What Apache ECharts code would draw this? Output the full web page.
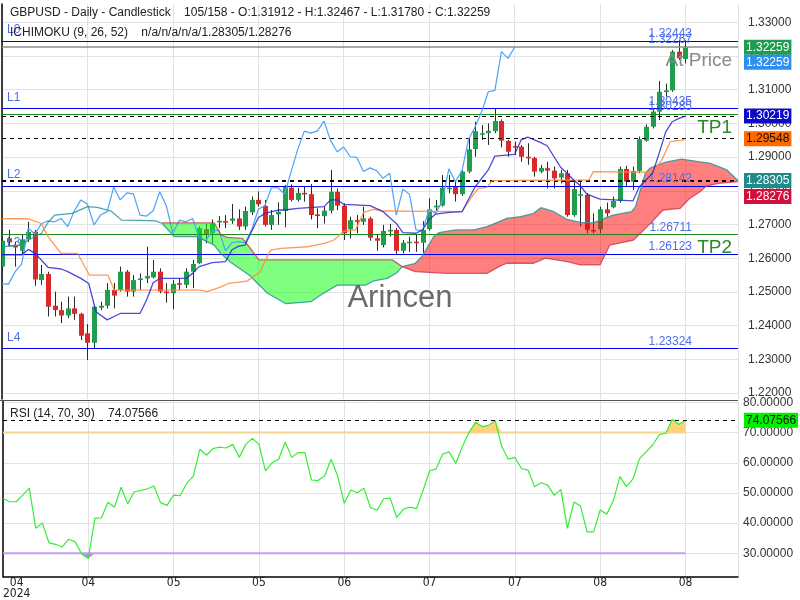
<!DOCTYPE html>
<html><head><meta charset="utf-8">
<script src="https://cdn.jsdelivr.net/npm/echarts/dist/echarts.min.js"></script>
<style>html,body{margin:0;padding:0;background:#fff}#c{width:800px;height:600px}</style>
</head><body><div id="c"></div>
<script>
// ---------- DATA ----------
const tickLabels = ['04','04','05','05','06','07','07','08','08'];
const yearLabel = '2024';
const priceTicks = [1.22,1.23,1.24,1.25,1.26,1.27,1.28,1.29,1.30,1.31,1.32,1.33];
const rsiTicks = [30,40,50,60,70,80];
// [open, close, low, high]
const ohlc = [
[1.2575,1.2652,1.2563,1.2662],[1.2659,1.2647,1.2634,1.2684],[1.2639,1.2632,1.2575,1.2649],[1.2622,1.2656,1.2613,1.2669],[1.2656,1.2678,1.2648,1.2708],
[1.2678,1.2537,1.2518,1.2684],[1.2535,1.2553,1.2521,1.2580],[1.2553,1.2456,1.2427,1.2560],[1.2459,1.2446,1.2427,1.2501],[1.2446,1.2430,1.2407,1.2471],
[1.2430,1.2451,1.2422,1.2486],[1.2451,1.2435,1.2417,1.2486],[1.2435,1.2370,1.2357,1.2438],[1.2377,1.2349,1.2298,1.2404],[1.2349,1.2456,1.2333,1.2461],
[1.2453,1.2459,1.2446,1.2471],[1.2459,1.2506,1.2451,1.2526],[1.2506,1.2489,1.2451,1.2527],[1.2506,1.2560,1.2501,1.2575],[1.2560,1.2501,1.2486,1.2565],
[1.2501,1.2535,1.2486,1.2550],[1.2537,1.2540,1.2506,1.2555],[1.2540,1.2547,1.2526,1.2634],[1.2543,1.2560,1.2540,1.2595],[1.2560,1.2501,1.2496,1.2570],
[1.2501,1.2496,1.2468,1.2526],[1.2496,1.2524,1.2448,1.2535],[1.2526,1.2523,1.2506,1.2540],[1.2521,1.2560,1.2511,1.2570],[1.2560,1.2583,1.2511,1.2595],
[1.2585,1.2689,1.2583,1.2694],[1.2686,1.2672,1.2644,1.2702],[1.2674,1.2702,1.2644,1.2715],[1.2706,1.2711,1.2689,1.2725],[1.2710,1.2708,1.2689,1.2728],
[1.2711,1.2718,1.2702,1.2761],[1.2718,1.2694,1.2684,1.2745],[1.2694,1.2740,1.2684,1.2753],[1.2736,1.2773,1.2728,1.2783],[1.2773,1.2760,1.2753,1.2798],
[1.2755,1.2699,1.2694,1.2773],[1.2699,1.2728,1.2684,1.2743],[1.2730,1.2738,1.2699,1.2766],[1.2740,1.2811,1.2692,1.2817],[1.2809,1.2773,1.2768,1.2819],
[1.2773,1.2794,1.2768,1.2809],[1.2794,1.2791,1.2768,1.2812],[1.2790,1.2728,1.2715,1.2820],[1.2730,1.2725,1.2689,1.2748],[1.2725,1.2741,1.2703,1.2753],
[1.2741,1.2797,1.2733,1.2862],[1.2797,1.2756,1.2743,1.2807],[1.2756,1.2674,1.2654,1.2763],[1.2686,1.2713,1.2659,1.2723],[1.2713,1.2708,1.2674,1.2728],
[1.2708,1.2718,1.2699,1.2753],[1.2718,1.2661,1.2652,1.2723],[1.2659,1.2652,1.2622,1.2672],[1.2639,1.2681,1.2632,1.2699],[1.2681,1.2684,1.2664,1.2702],
[1.2684,1.2622,1.2613,1.2689],[1.2622,1.2646,1.2614,1.2654],[1.2646,1.2649,1.2619,1.2664],[1.2649,1.2646,1.2619,1.2669],[1.2646,1.2684,1.2616,1.2710],
[1.2686,1.2745,1.2682,1.2778],[1.2751,1.2756,1.2741,1.2773],[1.2756,1.2809,1.2753,1.2847],[1.2806,1.2809,1.2793,1.2847],[1.2812,1.2790,1.2768,1.2832],
[1.2790,1.2857,1.2785,1.2862],[1.2857,1.2923,1.2852,1.2956],[1.2924,1.2977,1.2901,1.3005],[1.2968,1.2971,1.2951,1.2995],[1.2971,1.2978,1.2936,1.3000],
[1.2977,1.3007,1.2971,1.3045],[1.3007,1.2949,1.2929,1.3012],[1.2948,1.2916,1.2901,1.2951],[1.2933,1.2930,1.2906,1.2946],[1.2931,1.2901,1.2886,1.2936],
[1.2901,1.2899,1.2877,1.2941],[1.2897,1.2857,1.2842,1.2901],[1.2857,1.2868,1.2852,1.2877],[1.2867,1.2860,1.2807,1.2886],[1.2860,1.2837,1.2807,1.2872],
[1.2839,1.2852,1.2822,1.2862],[1.2852,1.2728,1.2723,1.2862],[1.2728,1.2805,1.2723,1.2832],[1.2787,1.2790,1.2694,1.2827],[1.2788,1.2684,1.2674,1.2793],
[1.2684,1.2682,1.2674,1.2733],[1.2686,1.2745,1.2674,1.2753],[1.2745,1.2733,1.2723,1.2765],[1.2751,1.2770,1.2748,1.2783],[1.2770,1.2865,1.2765,1.2872],
[1.2865,1.2827,1.2812,1.2874],[1.2827,1.2859,1.2802,1.2872],[1.2859,1.2953,1.2852,1.2961],[1.2949,1.2990,1.2946,1.2997],[1.2990,1.3035,1.2985,1.3045],
[1.3035,1.3094,1.3010,1.3126],[1.3095,1.3098,1.3079,1.3118],[1.3098,1.3213,1.3094,1.3218],[1.3213,1.3193,1.3188,1.3247],[1.31912,1.32259,1.31780,1.32467]
];
const rsi = [
48.2,47.1,47.1,49.3,51.6,38.3,40.1,33.5,33.0,32.1,
34.7,33.8,29.8,28.3,41.6,41.8,46.9,45.3,51.9,46.4,
50.4,50.8,51.4,52.3,46.8,45.9,49.3,49.1,53.2,55.6,
64.5,62.5,64.7,65.2,64.9,66.1,61.8,66.1,68.1,66.1,
57.3,60.0,61.2,66.8,61.8,63.4,63.4,54.3,54.1,55.6,
61.2,55.6,46.6,51.0,50.1,51.6,45.1,44.3,48.1,48.3,
41.9,44.6,45.3,44.8,50.8,57.3,58.0,62.9,63.6,59.8,
65.4,70.0,73.4,72.0,72.4,74.0,65.4,61.2,61.8,58.1,
57.6,52.1,53.4,52.6,49.2,51.2,38.3,47.0,45.7,37.1,
37.1,44.4,43.0,47.4,55.4,52.1,54.7,61.4,63.6,65.9,
69.3,69.8,74.4,72.7,74.07566
];
// Ichimoku lines, [bar position, value] vertices
const tenkan = [[0,1.2610],[3,1.2610],[4,1.2626],[5,1.2615],[7,1.2573],[9,1.2568],[10,1.2560],[12,1.2540],[13.2,1.2525],[14.3,1.2441],[16,1.2417],[18,1.2436],[21,1.2436],[22,1.2476],[23,1.2527],[24,1.2540],[28,1.2540],[29,1.2555],[30,1.2575],[32,1.2587],[34,1.2590],[35,1.2625],[36,1.2636],[37,1.2639],[38,1.2680],[39,1.2720],[40,1.2733],[42,1.2743],[43,1.2743],[45,1.2748],[49,1.2753],[50,1.2773],[51,1.2773],[52,1.2760],[56,1.2756],[58,1.2738],[60,1.2703],[61,1.2676],[63,1.2674],[64,1.2684],[65,1.2715],[66,1.2731],[68,1.2736],[70,1.2738],[72,1.2812],[74,1.2862],[75,1.2903],[78,1.2908],[79,1.2951],[80,1.2959],[82,1.2943],[83,1.2933],[84,1.2901],[85,1.2870],[86,1.2852],[87,1.2832],[88,1.2815],[89,1.2790],[91,1.2775],[96,1.2770],[97,1.2812],[99,1.2852],[100,1.2911],[101,1.2975],[102,1.3005],[103,1.3015],[104,1.30219]];
const kijun = [[0,1.2717],[4,1.2717],[6,1.2703],[7,1.2664],[9,1.2614],[11.5,1.2614],[13.3,1.2550],[16.1,1.2550],[17.1,1.2505],[30.2,1.2505],[31.3,1.2501],[33.2,1.2514],[34.5,1.2525],[37.3,1.2532],[39.3,1.2560],[40.1,1.2595],[40.9,1.2624],[42.4,1.2629],[46.5,1.2634],[49.2,1.2645],[50.5,1.2654],[52,1.2680],[53.8,1.2684],[55,1.2735],[56.5,1.2745],[58,1.2740],[70,1.2738],[71.5,1.2783],[72.5,1.2807],[73.8,1.2810],[74.6,1.2830],[89.3,1.2832],[90,1.2857],[99,1.2855],[100.4,1.2891],[101.7,1.2946],[103.7,1.2951],[104,1.29548]];
const senkouA = [[0,1.2634],[3,1.2639],[4,1.2654],[6,1.2674],[7,1.2706],[8,1.2728],[10.7,1.2733],[13,1.2753],[14.5,1.2751],[16.6,1.2740],[18.2,1.2713],[21,1.2712],[23.4,1.2711],[24.4,1.2703],[26.2,1.2664],[29.7,1.2664],[32.3,1.2639],[33.3,1.2614],[34.8,1.2588],[37.6,1.2550],[40.4,1.2496],[43.2,1.2465],[47,1.2471],[48.5,1.2491],[51,1.2520],[55.3,1.2520],[56.6,1.2533],[58.6,1.2540],[60.1,1.2557],[60.9,1.2575],[62.9,1.2585],[63.9,1.2605],[65.7,1.2664],[66.5,1.2676],[69,1.2684],[71.8,1.2684],[73.8,1.2694],[75.6,1.2708],[76.8,1.2718],[78.9,1.2723],[80.9,1.2733],[82,1.2750],[84,1.2738],[86,1.2715],[88,1.2706],[90,1.2705],[91,1.2713],[93,1.2728],[95.8,1.2738],[96.4,1.2753],[97.9,1.2852],[98.6,1.2867],[101,1.2885],[103.4,1.2894],[106.2,1.2886],[107.7,1.2882],[110.3,1.2862],[112,1.28305]];
const senkouB = [[24.4,1.2705],[32.3,1.2705],[33.3,1.2669],[34.3,1.2662],[36.6,1.2659],[37.6,1.2634],[39.1,1.2595],[59.4,1.2595],[60.9,1.2575],[62.9,1.2560],[67.7,1.2555],[73.8,1.2555],[75.6,1.2575],[76.8,1.2585],[80.9,1.2585],[82.7,1.2600],[86,1.2590],[88,1.2580],[91,1.2580],[92.5,1.2639],[96.1,1.2654],[98,1.2690],[100.6,1.2743],[103.2,1.2748],[104.5,1.2775],[106.2,1.2797],[107.2,1.2814],[109,1.2822],[112,1.28276]];
const cloudStart = 24.4, cloudCross = 60.9;
const chikouShift = 26;
// horizontal levels
const levelValues = [1.32443,1.30435,1.28142,1.26123,1.23324];
const levelNames = ['L0','L1','L2','L3','L4'];
const targetValues = [1.30285,1.26711];
const targetNames = ['TP1','TP2'];
const atPriceValue = 1.32267;
const lastClose = 1.32259;
const lastTenkan = 1.30219, lastKijun = 1.29548, lastSpanA = 1.28305, lastSpanB = 1.28276, lastChikou = 1.32259;
const rsiLast = 74.07566, rsiUpper = 70, rsiLower = 30;

// ---------- CHART ----------
const FONT = "'Liberation Sans', Arial, sans-serif";
const nBars = ohlc.length;          // 105
const xMax = 112;
const chikou = ohlc.slice(chikouShift).map((d,i)=>[i,d[1]]);
const candleData = ohlc.map((d,i)=>[i,d[0],d[1],d[2],d[3]]);
const rsiData = rsi.map((v,i)=>[i,v]);

const greenA = senkouA.filter(p=>p[0]>=cloudStart && p[0]<=cloudCross);
const greenB = senkouB.filter(p=>p[0]<=cloudCross);
const redA = senkouA.filter(p=>p[0]>=cloudCross);
const redB = senkouB.filter(p=>p[0]>=cloudCross);

const chart = echarts.init(document.getElementById('c'), null, {renderer:'canvas'});

function lineSeries(data, color, width, opacity){
  return {type:'line', xAxisIndex:0, yAxisIndex:0, data, showSymbol:false, symbol:'none', z:5,
    lineStyle:{color, width, opacity: opacity==null?1:opacity}, silent:true, animation:false};
}
const valLbl = v => ({show:true, position:'insideEndTop', formatter: v.toFixed(5), color:'#4d6cf0', fontSize:12, fontFamily:FONT, distance:1, offset:[-45,0]});
const boxLbl = (v,bg,fg,dy) => ({show:true, opacity:1, position:'end', formatter: v.toFixed(5), color:fg, backgroundColor:bg, fontSize:12, fontFamily:FONT, padding:[2,2,1,2], distance:6, offset:[0,dy||0]});
const hidden = {color:'rgba(0,0,0,0)', width:0, type:'solid'};
const dashed = {color:'#000', width:1, type:[4,4]};

const mainMarks = [];
levelValues.forEach((v,k)=>{
  mainMarks.push({yAxis:v, lineStyle:{color:'#0000f0', width:1, type:'solid'}, label:valLbl(v)});
  mainMarks.push({yAxis:v, lineStyle:hidden, label:{show:true, opacity:1, position:'insideStartTop', formatter:levelNames[k], color:'#4d6cf0', fontSize:12, fontFamily:FONT, distance:5}});
});
targetValues.forEach((v,k)=>{
  mainMarks.push({yAxis:v, lineStyle:{color:'#1d8a1d', width:1, type:'solid'}, label:valLbl(v)});
  mainMarks.push({yAxis:v, lineStyle:hidden, label:{show:true, opacity:1, position:'insideEndBottom', formatter:targetNames[k], color:'#2a8a2a', fontSize:19, fontFamily:FONT, distance:4, offset:[-2,0]}});
});
mainMarks.push({yAxis:atPriceValue, lineStyle:{color:'#8c8c8c', width:1.5, type:'solid'}, label:valLbl(atPriceValue)});
mainMarks.push({yAxis:atPriceValue, lineStyle:hidden, label:{show:true, opacity:1, position:'insideEndBottom', formatter:'At Price', color:'#8a8a8a', fontSize:19, fontFamily:FONT, distance:4, offset:[-2,0]}});
[lastTenkan,lastKijun,lastSpanA,lastSpanB].forEach(v=>mainMarks.push({yAxis:v, lineStyle:dashed, label:{show:false}}));
mainMarks.push({yAxis:lastClose, lineStyle:hidden, label:boxLbl(lastClose,'#1f9d4f','#fff',0)});
mainMarks.push({yAxis:lastChikou, lineStyle:hidden, label:boxLbl(lastChikou,'#2f8ff0','#fff',15)});
mainMarks.push({yAxis:lastTenkan, lineStyle:hidden, label:boxLbl(lastTenkan,'#0a0ac8','#fff',0)});
mainMarks.push({yAxis:lastKijun, lineStyle:hidden, label:boxLbl(lastKijun,'#ff6a00','#111',0)});
mainMarks.push({yAxis:lastSpanA, lineStyle:hidden, label:boxLbl(lastSpanA,'#1f8a8a','#fff',0)});
mainMarks.push({yAxis:lastSpanB, lineStyle:hidden, label:boxLbl(lastSpanB,'#d0103a','#fff',15)});

const option = {
  animation:false,
  backgroundColor:'#fff',
  textStyle:{fontFamily:FONT},
  grid:[
    {left:2, right:62, top:4, height:395},
    {left:2, right:62, top:401, height:176}
  ],
  xAxis:[
    {type:'value', gridIndex:0, min:0, max:xMax, interval:13,
     axisLine:{show:false}, axisTick:{show:false}, axisLabel:{show:false},
     splitLine:{show:true, lineStyle:{color:'#e2e2e2'}}},
    {type:'value', gridIndex:1, min:0, max:xMax, interval:13,
     axisLine:{show:true, onZero:false, lineStyle:{color:'#000', width:1.5}}, axisTick:{show:false},
     splitLine:{show:true, lineStyle:{color:'#e2e2e2'}},
     axisLabel:{show:true, margin:1, fontSize:12, lineHeight:11, color:'#222',
       fontFamily:"'Liberation Sans Narrow','DejaVu Sans Condensed',sans-serif",
       alignMinLabel:'left',
       formatter:v=>{const k=Math.round(v/13); if(Math.abs(v-k*13)>1e-6||k>=tickLabels.length) return ''; return k===0?('  '+tickLabels[0]+'\n'+yearLabel):tickLabels[k];}}}
  ],
  yAxis:[
    {type:'value', gridIndex:0, position:'right', min:1.21822, max:1.33543,
     axisLine:{show:true, lineStyle:{color:'#000', width:1.5}},
     axisTick:{show:false, customValues:priceTicks},
     axisLabel:{show:true, customValues:priceTicks, margin:10, fontSize:12, color:'#333', formatter:v=>v.toFixed(5)},
     splitLine:{show:true, lineStyle:{color:'#e2e2e2'}}},
    {type:'value', gridIndex:1, position:'right', min:22.34, max:80.47,
     axisLine:{show:true, lineStyle:{color:'#000', width:1.5}},
     axisTick:{show:false, customValues:rsiTicks},
     axisLabel:{show:true, customValues:rsiTicks, margin:5, fontSize:12, color:'#333', formatter:v=>v.toFixed(5)},
     splitLine:{show:true, lineStyle:{color:'#e2e2e2'}}}
  ],
  series:[
    {type:'custom', name:'candles', xAxisIndex:0, yAxisIndex:0, clip:true, z:2, silent:true,
     data:candleData, encode:{x:0, y:[1,2,3,4]},
     renderItem:(params, api)=>{
       const x=api.value(0), o=api.value(1), c=api.value(2), l=api.value(3), h=api.value(4);
       const pO=api.coord([x,o]), pC=api.coord([x,c]), pL=api.coord([x,l]), pH=api.coord([x,h]);
       const cx=Math.round(pO[0]);
       const top=Math.min(pO[1],pC[1]), bot=Math.max(pO[1],pC[1]);
       return {type:'group', children:[
         {type:'line', shape:{x1:cx+0.5,y1:pH[1],x2:cx+0.5,y2:pL[1]}, style:{stroke:'#2a2a2a', lineWidth:1}},
         {type:'rect', shape:{x:cx-2,y:top,width:5,height:Math.max(bot-top,1.6)}, style:{fill: c>=o?'#1f9e4d':'#dc2828'}}
       ]};
     }},
    {type:'custom', name:'cloud', xAxisIndex:0, yAxisIndex:0, clip:true, z:3, silent:true,
     data:[[cloudStart, greenB[0][1]]], encode:{x:0,y:1},
     renderItem:(params, api)=>{
       const poly=(a,b)=>a.map(p=>api.coord(p)).concat(b.slice().reverse().map(p=>api.coord(p)));
       return {type:'group', children:[
         {type:'polygon', shape:{points:poly(greenA,greenB)}, style:{fill:'rgba(0,255,0,0.5)'}},
         {type:'polygon', shape:{points:poly(redA,redB)}, style:{fill:'rgba(255,0,0,0.5)'}}
       ]};
     }},
    lineSeries(chikou,'#4aa3f7',1.2),
    lineSeries(senkouA,'#2f9595',1.3,0.85),
    lineSeries(senkouB,'#c8304a',1.3,0.75),
    lineSeries(kijun,'#ff8a3c',1.3,0.85),
    lineSeries(tenkan,'#2a2ad0',1.3,0.85),
    {type:'line', xAxisIndex:0, yAxisIndex:0, data:[], z:6, silent:true,
     markLine:{silent:true, precision:6, symbol:['none','none'], animation:false, data:mainMarks}},
    // RSI panel
    {type:'custom', name:'rsiFill', xAxisIndex:1, yAxisIndex:1, clip:true, z:2, silent:true,
     data:[[0,rsiUpper]], encode:{x:0,y:1},
     renderItem:(params, api)=>{
       const up=rsiData.map(p=>api.coord([p[0],Math.max(p[1],rsiUpper)])).concat([api.coord([nBars-1,rsiUpper]),api.coord([0,rsiUpper])]);
       const dn=rsiData.map(p=>api.coord([p[0],Math.min(p[1],rsiLower)])).concat([api.coord([nBars-1,rsiLower]),api.coord([0,rsiLower])]);
       return {type:'group', children:[
         {type:'polygon', shape:{points:up}, style:{fill:'#ffd27c'}},
         {type:'polygon', shape:{points:dn}, style:{fill:'#b48ae8'}}
       ]};
     }},
    {type:'line', xAxisIndex:1, yAxisIndex:1, data:[[0,rsiUpper],[nBars-1,rsiUpper]], symbol:'none', z:3, silent:true, lineStyle:{color:'#f8d38e', width:2}},
    {type:'line', xAxisIndex:1, yAxisIndex:1, data:[[0,rsiLower],[nBars-1,rsiLower]], symbol:'none', z:3, silent:true, lineStyle:{color:'#c59ef2', width:2}},
    {type:'line', xAxisIndex:1, yAxisIndex:1, data:rsiData, symbol:'none', z:4, silent:true, lineStyle:{color:'#33ee33', width:1.2},
     markLine:{silent:true, precision:6, symbol:['none','none'], animation:false,
       data:[{yAxis:rsiLast, lineStyle:dashed, label:boxLbl(rsiLast,'#00ee00','#111',0)}]}}
  ],
  graphic:[
    {type:'line', shape:{x1:0,y1:400.5,x2:738,y2:400.5}, style:{stroke:'#555', lineWidth:1}, z:10},
    {type:'text', left:10, top:7, z:10, style:{text:'GBPUSD - Daily - Candlestick    105/158 - O:1.31912 - H:1.32467 - L:1.31780 - C:1.32259', fontSize:12, fill:'#222', font:'12px '+FONT}},
    {type:'text', left:10, top:27, z:10, style:{text:'ICHIMOKU (9, 26, 52)    n/a/n/a/n/a/1.28305/1.28276', fontSize:12, fill:'#222', font:'12px '+FONT}},
    {type:'text', left:10, top:408, z:10, style:{text:'RSI (14, 70, 30)    74.07566', fontSize:12, fill:'#222', font:'12px '+FONT}},
    {type:'text', x:400, y:298, z:10, style:{text:'Arincen', font:'31px '+FONT, fill:'rgba(90,90,90,0.9)', textAlign:'center', textVerticalAlign:'middle'}}
  ]
};
chart.setOption(option);
</script>
</body></html>
